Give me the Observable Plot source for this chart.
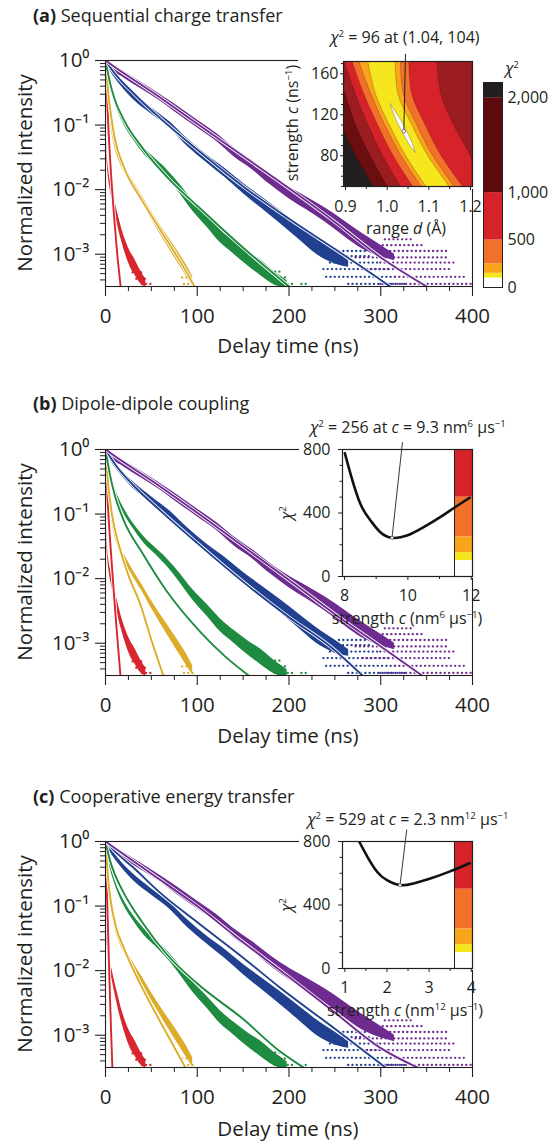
<!DOCTYPE html>
<html><head><meta charset="utf-8">
<script src="https://cdn.jsdelivr.net/npm/d3@7"></script>
<script src="https://cdn.jsdelivr.net/npm/@observablehq/plot@0.6"></script>
<style>
html,body{margin:0;padding:0;background:#fff;}
#root{position:relative;width:559px;height:1144px;overflow:hidden;font-family:"Open Sans",sans-serif;color:#231f20;}
#root svg{position:absolute;}
.t{position:absolute;white-space:nowrap;line-height:1;}
.title{font-size:18px;}
.ax{font-size:20.5px;}
.ins{font-size:16px;}
.sup{font-size:0.6em;position:relative;top:-0.6em;}
.bg{position:absolute;background:#fff;}
</style></head><body><div id="root"></div>
<script>
// ---------------- data ----------------
const ink = "#231f20";
const seriesNames = ["red", "yellow", "green", "blue", "purple"];
const seriesColors = ["#d7262e", "#dcac2b", "#1e8b40", "#21408f", "#6e2c90"];

// measured decays (log10 normalized intensity vs delay, ns) and band half-width (log10)
const redT = [0, 0.3, 0.7, 1.2, 2, 3.5, 5.5, 8, 11, 14, 18, 22, 27, 32, 38, 44];
const redLog = [0, -0.4, -0.9, -1.3, -1.55, -1.78, -1.95, -2.12, -2.32, -2.5, -2.72, -2.9, -3.08, -3.2, -3.35, -3.45];
const redSp = [0.03, 0.05, 0.05, 0.05, 0.06, 0.07, 0.08, 0.08, 0.09, 0.1, 0.1, 0.11, 0.12, 0.12, 0.1, 0.06];
const yellowT = [0, 1, 2.5, 4.5, 7, 10, 15, 22, 30, 40, 50, 60, 70, 80, 88, 95];
const yellowLog = [0, -0.25, -0.55, -0.82, -1.08, -1.3, -1.52, -1.72, -1.92, -2.15, -2.4, -2.63, -2.85, -3.07, -3.25, -3.42];
const yellowSp = [0.03, 0.04, 0.04, 0.04, 0.04, 0.04, 0.04, 0.05, 0.05, 0.05, 0.06, 0.07, 0.08, 0.09, 0.09, 0.07];
const greenT = [0, 2, 5, 10, 20, 30, 42, 55, 67, 80, 95, 110, 125, 140, 155, 170, 185, 198];
const greenLog = [0, -0.18, -0.38, -0.62, -0.95, -1.18, -1.4, -1.58, -1.75, -1.97, -2.25, -2.48, -2.72, -2.9, -3.07, -3.22, -3.38, -3.47];
const greenSp = [0.03, 0.03, 0.03, 0.03, 0.04, 0.04, 0.05, 0.05, 0.06, 0.07, 0.08, 0.09, 0.1, 0.1, 0.11, 0.12, 0.1, 0.06];
const blueT = [0, 5, 15, 30, 50, 70, 90, 110, 130, 150, 170, 190, 210, 230, 250, 265];
const blueLog = [0, -0.12, -0.32, -0.55, -0.78, -1.0, -1.28, -1.52, -1.74, -1.98, -2.2, -2.42, -2.65, -2.88, -3.05, -3.15];
const blueSp = [0.03, 0.04, 0.04, 0.05, 0.05, 0.05, 0.06, 0.06, 0.07, 0.08, 0.09, 0.1, 0.11, 0.12, 0.1, 0.05];
const purpleT = [0, 5, 20, 40, 60, 80, 100, 120, 140, 160, 180, 200, 220, 240, 260, 280, 300, 315];
const purpleLog = [0, -0.08, -0.22, -0.4, -0.58, -0.78, -0.98, -1.18, -1.42, -1.62, -1.85, -2.05, -2.22, -2.4, -2.6, -2.8, -2.95, -3.05];
const purpleSp = [0.03, 0.04, 0.05, 0.05, 0.05, 0.06, 0.06, 0.06, 0.07, 0.07, 0.08, 0.09, 0.1, 0.11, 0.12, 0.12, 0.09, 0.05];

// low-count rows of scattered points: [from ns, to ns, log10 level]
const redNoise = [[34, 46, -3.38], [40, 50, -3.46], [30, 40, -3.28]];
const yellowNoise = [[86, 98, -3.46], [84, 94, -3.36]];
const greenNoise = [[185, 205, -3.46], [182, 200, -3.36], [214, 220, -3.46], [176, 194, -3.27]];
const blueNoise = [[265, 330, -3.46], [241, 318, -3.35], [238, 311, -3.23], [245, 300, -3.13], [250, 290, -3.03], [255, 285, -2.95]];
const purpleNoise = [[300, 400, -3.46], [316, 394, -3.35], [281, 375, -3.23], [300, 380, -3.13], [273, 375, -3.05], [292, 372, -2.95], [298, 345, -2.86], [305, 335, -2.77]];

// model fits [ns, log10 intensity] for panels a, b, c
const fitA_red = [[0, 0], [1, -0.35], [3, -1.0], [6, -1.75], [9, -2.35], [12.5, -2.95], [16.5, -3.5]];
const fitA_yellow = [[0, 0], [3, -0.5], [6, -0.85], [10, -1.2], [20, -1.65], [40, -2.17], [60, -2.63], [80, -3.08], [97, -3.5]];
const fitA_green = [[0, 0], [5, -0.35], [10, -0.6], [20, -0.92], [40, -1.35], [70, -1.85], [100, -2.25], [150, -2.9], [190, -3.38], [200, -3.5]];
const fitA_blue = [[0, 0], [10, -0.2], [30, -0.5], [60, -0.9], [100, -1.38], [150, -1.95], [200, -2.45], [250, -2.92], [300, -3.4], [310, -3.5]];
const fitA_purple = [[0, 0], [10, -0.1], [50, -0.48], [100, -0.98], [150, -1.48], [200, -1.98], [250, -2.5], [300, -3.05], [350, -3.5]];

const fitB_red = [[0, 0], [2, -0.7], [5, -1.4], [9, -2.2], [12.5, -2.85], [16.3, -3.5]];
const fitB_yellow = [[0, 0], [3, -0.55], [7, -1.0], [15, -1.5], [25, -1.95], [38, -2.4], [50, -2.95], [63, -3.5]];
const fitB_green = [[0, 0], [5, -0.4], [10, -0.7], [20, -1.1], [40, -1.6], [67, -2.2], [103, -2.82], [130, -3.2], [156, -3.5]];
const fitB_blue = [[0, 0], [10, -0.22], [30, -0.55], [60, -0.95], [100, -1.45], [150, -2.05], [200, -2.6], [245, -3.05], [280, -3.5]];
const fitB_purple = [[0, 0], [10, -0.1], [50, -0.48], [100, -0.98], [150, -1.5], [200, -2.02], [250, -2.55], [300, -3.05], [345, -3.5]];

const fitC_red = [[0, 0], [2, -1.0], [4, -2.0], [6, -2.9], [7.5, -3.5]];
const fitC_yellow = [[0, 0], [3, -0.6], [6, -0.95], [12, -1.35], [20, -1.65], [38, -2.21], [60, -2.8], [87, -3.5]];
const fitC_green = [[0, 0], [5, -0.3], [10, -0.5], [20, -0.8], [40, -1.25], [67, -1.75], [100, -2.2], [150, -2.75], [190, -3.25], [218, -3.52]];
const fitC_blue = [[0, 0], [10, -0.15], [30, -0.4], [60, -0.8], [100, -1.25], [150, -1.8], [190, -2.26], [250, -2.9], [307, -3.52]];
const fitC_purple = [[0, 0], [10, -0.1], [50, -0.5], [100, -1.0], [140, -1.45], [200, -2.1], [250, -2.65], [300, -3.2], [343, -3.52]];

// axes
const decadeTicks = [1, 0.1, 0.01, 0.001];
const decadeLabels = ["10⁰", "10⁻¹", "10⁻²", "10⁻³"];
const minorMultipliers = [2, 3, 4, 5, 6, 7, 8, 9];
const delayTicks = [0, 100, 200, 300, 400];
const delayMinor = [25, 50, 75, 125, 150, 175, 225, 250, 275, 325, 350, 375];
const yDomainLog = [-3.5, 0];

// inset (a): chi^2 map over range d (Å) and strength c (ns^-1): boundary d-values at each c
const heatD = [0.8952, 1.2048];
const heatC = [45, 80, 110, 140, 175];
const b2000 = [0.975, 0.925, 0.89, 0.855, 0.83];
const b1500 = [1.008, 0.96, 0.925, 0.9, 0.87];
const b1000L = [1.04, 0.99, 0.955, 0.925, 0.895];
const b500L = [1.07, 1.015, 0.978, 0.945, 0.914];
const b250L = [1.09, 1.034, 0.995, 0.962, 0.93];
const b150L = [1.102, 1.045, 1.006, 0.973, 0.953];
const b150R = [1.158, 1.098, 1.06, 1.027, 1.02];
const b250R = [1.17, 1.11, 1.072, 1.04, 1.033];
const b500R = [1.19, 1.13, 1.092, 1.06, 1.053];
const b1000R = [1.23, 1.2, 1.16, 1.13, 1.12];
const minC = [83, 90, 100, 110, 120, 130.5];
const minL = [1.068, 1.055, 1.041, 1.028, 1.017, 1.008];
const minR = [1.068, 1.063, 1.052, 1.04, 1.025, 1.008];
const heatCTicks = [80, 120, 160];
const heatCMinor = [50, 60, 70, 90, 100, 110, 130, 140, 150, 170];
const heatDTicks = [0.9, 1.0, 1.1, 1.2];
const heatDMinor = [0.95, 1.05, 1.15];
const bestA = {d: 1.04, c: 104};
const pointerA = {d: 1.044, c: 179.5};

// chi^2 scale colours
const chiEdges = [0, 100, 150, 250, 500, 1000, 2000, 2160];
const chiColors = ["#ffffff", "#f5e61e", "#f8a51c", "#f1712a", "#d6232a", "#5e0b0d", "#231f20"];
const chiTicksA = [0, 500, 1000, 2000];
const heatFill = {black: "#231f20", maroon: "#6a0e10", dark: "#9c1d21", red: "#d6232a", orange: "#f1712a", lorange: "#f8a51c", yellow: "#f5e61e", white: "#ffffff"};

// inset (b): chi^2 vs c (nm^6 µs^-1)
const chiB_c = [8.01, 8.19, 8.5, 8.82, 9.13, 9.5, 9.97, 10.5, 11.02, 11.44, 11.95];
const chiB_v = [777, 647, 458, 353, 279, 244, 258, 311, 374, 430, 496];
const bestB = {c: 9.5, v: 244};
const pointerB = {c: 9.83, v: 846};
const bDomain = [7.937, 12.04];
const bTicks = [8, 10, 12];
const bMinor = [9, 11];
// inset (c): chi^2 vs c (nm^12 µs^-1)
const chiC_c = [1.34, 1.54, 1.77, 2.0, 2.31, 2.63, 3.03, 3.42, 3.74, 3.96];
const chiC_v = [800, 702, 608, 556, 525, 536, 567, 604, 638, 663];
const bestC = {c: 2.31, v: 525};
const pointerC = {c: 2.47, v: 875};
const cDomain = [0.945, 4.03];
const cTicks = [1, 2, 3, 4];
const cMinor = [1.5, 2.5, 3.5];
const chiAxisTicks = [0, 400, 800];
const chiAxisMinor = [100, 200, 300, 500, 600, 700];
const chiEdgesBC = [0, 100, 150, 250, 500, 800];

// ---------------- helpers ----------------
const root = document.getElementById("root");
function place(node, left, top) { node.style.left = left + "px"; node.style.top = top + "px"; root.appendChild(node); return node; }
function text(html, cls, x, y, anchor = "middle", rotate = false) {
  const d = document.createElement("div");
  d.className = "t " + cls; d.innerHTML = html;
  let tr = anchor === "middle" ? "translate(-50%,-50%)" : anchor === "start" ? "translate(0,-50%)" : "translate(-100%,-50%)";
  if (rotate) tr += " rotate(-90deg)";
  d.style.transform = tr;
  place(d, x, y);
}
function bg(left, top, w, h) { const d = document.createElement("div"); d.className = "bg"; d.style.width = w + "px"; d.style.height = h + "px"; place(d, left, top); }

const series = seriesNames.map((name, i) => ({
  name, color: seriesColors[i],
  t: [redT, yellowT, greenT, blueT, purpleT][i],
  log: [redLog, yellowLog, greenLog, blueLog, purpleLog][i],
  sp: [redSp, yellowSp, greenSp, blueSp, purpleSp][i],
  noise: [redNoise, yellowNoise, greenNoise, blueNoise, purpleNoise][i]
}));
const minorY = decadeTicks.flatMap(d => minorMultipliers.map(m => d * m / 10)).filter(v => v >= 10 ** yDomainLog[0] && v < 1);
const intFmt = d => String(d);

function mainPlot(top, fits) {
  const marks = [];
  for (const s of series) {
    const rows = s.t.map((t, i) => ({t, lo: 10 ** (s.log[i] - s.sp[i]), hi: 10 ** (s.log[i] + s.sp[i])}));
    marks.push(Plot.areaY(rows, {x: "t", y1: "lo", y2: "hi", fill: s.color, curve: "monotone-x", clip: true}));
    const nz = s.noise.map(([a, b, l]) => ({a, b, v: 10 ** l}));
    marks.push(Plot.ruleY(nz, {y: "v", x1: "a", x2: "b", stroke: s.color, strokeWidth: 2.3, strokeDasharray: "0.1 4.2", strokeLinecap: "round", clip: true}));
  }
  fits.forEach((f, i) => {
    const rows = f.map(([t, l]) => ({t, v: 10 ** l}));
    marks.push(Plot.line(rows, {x: "t", y: "v", stroke: "white", strokeWidth: 3.6, curve: "monotone-x", clip: true}));
    marks.push(Plot.line(rows, {x: "t", y: "v", stroke: seriesColors[i], strokeWidth: 1.9, curve: "monotone-x", clip: true}));
  });
  marks.push(
    Plot.frame({stroke: ink, strokeWidth: 1.1}),
    Plot.axisY({ticks: decadeTicks, tickSize: 10, tickPadding: 6, tickFormat: d => decadeLabels[decadeTicks.indexOf(d)], label: null, strokeWidth: 1.1}),
    Plot.axisY({ticks: minorY, tickSize: 5, tickFormat: () => "", label: null}),
    Plot.axisX({ticks: delayTicks, tickSize: 10, tickPadding: 12, tickFormat: intFmt, label: null, strokeWidth: 1.1}),
    Plot.axisX({ticks: delayMinor, tickSize: 5, tickFormat: () => "", label: null})
  );
  const svg = Plot.plot({
    width: 559, height: 60 + 226 + 45,
    marginLeft: 105, marginRight: 87, marginTop: 60, marginBottom: 45,
    x: {domain: [0, 400]},
    y: {type: "log", domain: [10 ** yDomainLog[0], 1]},
    style: {fontFamily: "Open Sans", fontSize: "20.5px", color: ink, background: "transparent", overflow: "visible"},
    marks
  });
  place(svg, 0, top - 60);
}

function colorBar(left, top, w, h, edges, colors, max, ticks) {
  const rows = edges.slice(0, -1).map((e, i) => ({y1: e, y2: edges[i + 1], fill: colors[i]}));
  const marks = [Plot.rectY(rows, {y1: "y1", y2: "y2", fill: "fill"}), Plot.frame({stroke: ink, strokeWidth: 1})];
  if (ticks) marks.push(Plot.axisY({ticks, anchor: "right", tickSize: 0, tickPadding: 5, tickFormat: d3.format(","), label: null}));
  const svg = Plot.plot({
    width: w + (ticks ? 60 : 0), height: h, marginLeft: 0, marginRight: ticks ? 60 : 0, marginTop: 0, marginBottom: 0,
    y: {domain: [0, max], axis: ticks ? undefined : null},
    style: {fontFamily: "Open Sans", fontSize: "16px", color: ink, background: "transparent", overflow: "visible"},
    marks
  });
  place(svg, left, top);
}

function band(xs1, xs2, fill) {
  const rows = heatC.map((c, i) => ({c, l: xs1 ? xs1[i] : heatD[0], r: xs2 ? xs2[i] : heatD[1]}));
  return Plot.areaX(rows, {y: "c", x1: "l", x2: "r", fill, curve: "catmull-rom", clip: true, stroke: "#3b0a0a", strokeWidth: 0.4, strokeOpacity: 0.6});
}

// ---------------- panel (a) ----------------
text("<b>(a)</b> Sequential charge transfer", "title", 33, 15, "start");
mainPlot(60, [fitA_red, fitA_yellow, fitA_green, fitA_blue, fitA_purple]);
text("Normalized intensity", "ax", 24, 173, "middle", true);
text("Delay time (ns)", "ax", 288, 345);

bg(298, 55, 176, 134);
{
  const fl = heatFill;
  const sliver = minC.map((c, i) => ({c, l: minL[i], r: minR[i]}));
  const svg = Plot.plot({
    width: 185, height: 25 + 125 + 35, marginLeft: 50, marginRight: 6, marginTop: 25, marginBottom: 35,
    x: {domain: heatD}, y: {domain: [50, 172]},
    style: {fontFamily: "Open Sans", fontSize: "16px", color: ink, background: "transparent", overflow: "visible"},
    marks: [
      Plot.frame({fill: fl.black}),
      band(b2000, null, fl.maroon),
      band(b1500, null, fl.dark),
      band(b1000L, null, fl.red),
      band(b500L, null, fl.orange),
      band(b250L, null, fl.lorange),
      band(b150L, null, fl.yellow),
      band(b150R, null, fl.lorange),
      band(b250R, null, fl.orange),
      band(b500R, null, fl.red),
      band(b1000R, null, fl.dark),
      Plot.areaX(sliver, {y: "c", x1: "l", x2: "r", fill: "white", stroke: "#555", strokeWidth: 0.4, curve: "catmull-rom"}),
      Plot.link([{...bestA, ...{d2: pointerA.d, c2: pointerA.c}}], {x1: "d", y1: "c", x2: "d2", y2: "c2", stroke: ink, strokeWidth: 1}),
      Plot.dot([bestA], {x: "d", y: "c", r: 1.8, fill: "white", stroke: ink, strokeWidth: 0.6}),
      Plot.frame({stroke: ink, strokeWidth: 1.2}),
      Plot.axisY({ticks: heatCTicks, tickSize: 3, tickPadding: 2, tickFormat: intFmt, label: null}),
      Plot.axisY({ticks: heatCMinor, tickSize: 2, tickFormat: () => "", label: null}),
      Plot.axisX({ticks: heatDTicks, tickSize: 4, tickPadding: 10, tickFormat: d3.format(".1f"), label: null}),
      Plot.axisX({ticks: heatDMinor, tickSize: 3, tickFormat: () => "", label: null})
    ]
  });
  place(svg, 293, 36);
}
text("<i>χ</i><span class='sup'>2</span> = 96 at (1.04, 104)", "ins", 405, 37);
text("strength <i>c</i> (ns<span class='sup'>−1</span>)", "ins", 292, 123, "middle", true);
text("range <i>d</i> (Å)", "ins", 406, 228);
colorBar(483, 82, 19, 205, chiEdges, chiColors, 2160, chiTicksA);
text("<i>χ</i><span class='sup'>2</span>", "ins", 512, 68);

// ---------------- panels (b), (c) ----------------
function chiInset(frameTop, dom, ticks, minor, cs, vs, best, pointer) {
  bg(299, frameTop - 8, 175, 137);
  colorBar(454, frameTop, 18, 127, chiEdgesBC, chiColors, 800, null);
  const rows = cs.map((c, i) => ({c, v: vs[i]}));
  const svg = Plot.plot({
    width: 190, height: 30 + 127 + 30, marginLeft: 50, marginRight: 10, marginTop: 30, marginBottom: 30,
    x: {domain: dom}, y: {domain: [0, 800]},
    style: {fontFamily: "Open Sans", fontSize: "16px", color: ink, background: "transparent", overflow: "visible"},
    marks: [
      Plot.line(rows, {x: "c", y: "v", stroke: "#111", strokeWidth: 2.6, curve: "natural", clip: true}),
      Plot.link([{...best, c2: pointer.c, v2: pointer.v}], {x1: "c", y1: "v", x2: "c2", y2: "v2", stroke: ink, strokeWidth: 0.9}),
      Plot.dot([best], {x: "c", y: "v", r: 1.6, fill: "white", stroke: ink, strokeWidth: 0.5}),
      Plot.frame({stroke: ink, strokeWidth: 1.2}),
      Plot.axisY({ticks: chiAxisTicks, tickSize: 4, tickPadding: 8, tickFormat: intFmt, label: null}),
      Plot.axisY({ticks: chiAxisMinor, tickSize: 2.5, tickFormat: () => "", label: null}),
      Plot.axisX({ticks, tickSize: 4, tickPadding: 9, tickFormat: intFmt, label: null}),
      Plot.axisX({ticks: minor, tickSize: 3, tickFormat: () => "", label: null})
    ]
  });
  place(svg, 292, frameTop - 30);
}

text("<b>(b)</b> Dipole-dipole coupling", "title", 33, 403, "start");
mainPlot(449, [fitB_red, fitB_yellow, fitB_green, fitB_blue, fitB_purple]);
text("Normalized intensity", "ax", 24, 562, "middle", true);
text("Delay time (ns)", "ax", 288, 735);
chiInset(449, bDomain, bTicks, bMinor, chiB_c, chiB_v, bestB, pointerB);
text("<i>χ</i><span class='sup'>2</span> = 256 at <i>c</i> = 9.3 nm<span class='sup'>6</span> μs<span class='sup'>−1</span>", "ins", 408, 427);
text("<i>χ</i><span class='sup'>2</span>", "ins", 286, 513, "middle", true);
text("strength <i>c</i> (nm<span class='sup'>6</span> μs<span class='sup'>−1</span>)", "ins", 407, 618);

text("<b>(c)</b> Cooperative energy transfer", "title", 33, 796, "start");
mainPlot(841, [fitC_red, fitC_yellow, fitC_green, fitC_blue, fitC_purple]);
text("Normalized intensity", "ax", 24, 954, "middle", true);
text("Delay time (ns)", "ax", 288, 1128);
chiInset(841, cDomain, cTicks, cMinor, chiC_c, chiC_v, bestC, pointerC);
text("<i>χ</i><span class='sup'>2</span> = 529 at <i>c</i> = 2.3 nm<span class='sup'>12</span> μs<span class='sup'>−1</span>", "ins", 408, 819);
text("<i>χ</i><span class='sup'>2</span>", "ins", 286, 905, "middle", true);
text("strength <i>c</i> (nm<span class='sup'>12</span> μs<span class='sup'>−1</span>)", "ins", 405, 1010);
</script></body></html>
